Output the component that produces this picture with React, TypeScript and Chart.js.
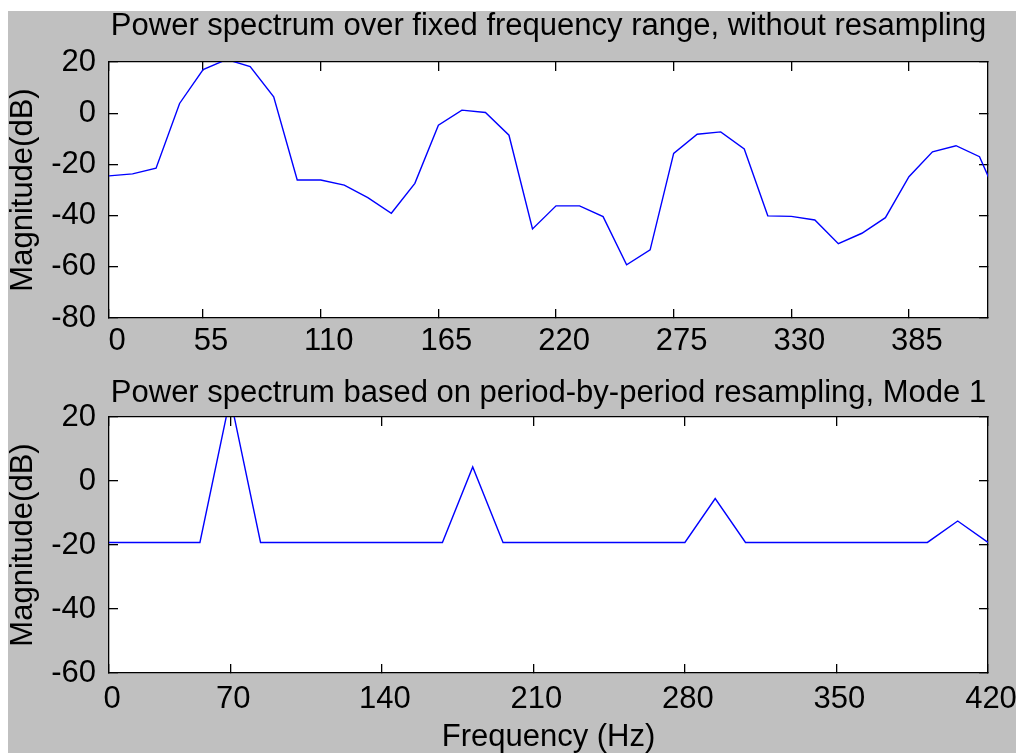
import React, { useEffect, useRef } from "react";
import { Chart, registerables } from "chart.js";

Chart.register(...registerables);

// ---- Data (bin index on x; tick labels give the frequency in Hz) ----
const topBins = [1, 2, 3, 4, 5, 6, 7, 8, 9, 10, 11, 12, 13, 14, 15, 16, 17, 18, 19, 20, 21, 22, 23, 24, 25, 26, 27, 28, 29, 30, 31, 32, 33, 34, 35, 36, 37, 38, 39];
const topMagnitude = [-24.5, -23.7, -21.5, 3.8, 17, 21, 18.2, 6.4, -26.1, -26.1, -28.1, -33, -39.1, -27.4, -4.7, 1.2, 0.3, -8.6, -45.2, -36.2, -36.2, -40.4, -59.2, -53.4, -15.7, -8.2, -7.3, -14, -40.1, -40.3, -41.7, -51, -46.9, -40.8, -24.8, -15.1, -12.7, -17, -38];
const topTickBins = [1, 5, 10, 15, 20, 25, 30, 35];
const topTickLabels = ["0", "55", "110", "165", "220", "275", "330", "385"];
const topXMax = 38.36;

const bottomBins = [1, 2, 3, 4, 5, 6, 7, 8, 9, 10, 11, 12, 13, 14, 15, 16, 17, 18, 19, 20, 21, 22, 23, 24, 25, 26, 27, 28, 29, 30];
const bottomMagnitude = [-19.2, -19.2, -19.2, -19.2, 26, -19.2, -19.2, -19.2, -19.2, -19.2, -19.2, -19.2, 4.4, -19.2, -19.2, -19.2, -19.2, -19.2, -19.2, -19.2, -5.5, -19.2, -19.2, -19.2, -19.2, -19.2, -19.2, -19.2, -12.5, -19.2];
const bottomTickBins = [1, 5, 10, 15, 20, 25, 30];
const bottomTickLabels = ["0", "70", "140", "210", "280", "350", "420"];
const bottomXMax = 30;

const topTitle = "Power spectrum over fixed frequency range, without resampling";
const bottomTitle = "Power spectrum based on period-by-period resampling, Mode 1";
const yLabel = "Magnitude(dB)";
const xLabel = "Frequency (Hz)";

const FONT_FAMILY = '"Liberation Sans", Arial, Helvetica, sans-serif';
const baseFont = { family: FONT_FAMILY, size: 31, lineHeight: 1 };

const plotBackground = {
  id: "plotBackground",
  beforeDraw(chart: any) {
    const { ctx, chartArea: a } = chart;
    ctx.save();
    ctx.fillStyle = "#ffffff";
    ctx.fillRect(a.left, a.top, a.right - a.left, a.bottom - a.top);
    ctx.restore();
  },
};

const gridOpts = {
  drawOnChartArea: false,
  drawTicks: true,
  tickLength: -9,
  color: "#000",
  tickColor: "#000",
  lineWidth: 1.3,
  tickWidth: 1.3,
};
const borderOpts = { display: true, color: "#000", width: 1.3 };

function makeConfig(p: any): any {
  const setTicks = (s: any) => {
    s.ticks = p.tickBins.map((v: number) => ({ value: v }));
  };
  return {
    type: "line",
    data: {
      datasets: [
        {
          data: p.bins.map((b: number, i: number) => ({ x: b, y: p.values[i] })),
          borderColor: "#0000ff",
          borderWidth: 1.4,
          pointRadius: 0,
          tension: 0,
          fill: false,
        },
      ],
    },
    options: {
      responsive: false,
      animation: false,
      devicePixelRatio: 1,
      layout: { padding: { left: 0, right: 28, top: 0, bottom: 0 } },
      plugins: {
        legend: { display: false },
        tooltip: { enabled: false },
        title: {
          display: true,
          text: p.title,
          fullSize: false,
          color: "#000",
          font: { ...baseFont, weight: "normal" },
          padding: { top: p.titleTop, bottom: p.titleBottom },
        },
      },
      scales: {
        x: {
          type: "linear",
          position: "bottom",
          min: 1,
          max: p.xMax,
          afterBuildTicks: setTicks,
          ticks: {
            autoSkip: false,
            maxRotation: 0,
            minRotation: 0,
            padding: 0,
            labelOffset: p.xLabelOffset,
            color: "#000",
            font: { ...baseFont, lineHeight: p.xLabelLineHeight },
            callback: (_v: any, i: number) => p.tickLabels[i],
          },
          grid: gridOpts,
          border: borderOpts,
          title: p.xTitle
            ? { display: true, text: p.xTitle, color: "#000", font: baseFont, padding: { top: 1, bottom: 0 } }
            : { display: false },
          afterFit: (s: any) => {
            s.height = p.xAxisHeight;
          },
        },
        x2: {
          type: "linear",
          position: "top",
          min: 1,
          max: p.xMax,
          afterBuildTicks: setTicks,
          ticks: { display: false, autoSkip: false },
          grid: gridOpts,
          border: borderOpts,
          afterFit: (s: any) => {
            s.height = 0;
          },
        },
        y: {
          type: "linear",
          position: "left",
          min: p.yMin,
          max: p.yMax,
          ticks: { stepSize: 20, padding: 22, color: "#000", font: baseFont },
          grid: gridOpts,
          border: borderOpts,
          title: { display: true, text: yLabel, color: "#000", font: baseFont, padding: 0 },
          afterFit: (s: any) => {
            s.width = 101;
          },
        },
        y2: {
          type: "linear",
          position: "right",
          min: p.yMin,
          max: p.yMax,
          ticks: { display: false, stepSize: 20 },
          grid: gridOpts,
          border: borderOpts,
          afterFit: (s: any) => {
            s.width = 0;
          },
        },
      },
    },
    plugins: [plotBackground],
  };
}

export default function App() {
  const topRef = useRef<HTMLCanvasElement>(null);
  const bottomRef = useRef<HTMLCanvasElement>(null);

  useEffect(() => {
    const c1 = new Chart(
      topRef.current as HTMLCanvasElement,
      makeConfig({
        bins: topBins,
        values: topMagnitude,
        tickBins: topTickBins,
        tickLabels: topTickLabels,
        xMax: topXMax,
        yMin: -80,
        yMax: 20,
        title: topTitle,
        titleTop: 0,
        titleBottom: 20,
        xAxisHeight: 48,
        xLabelLineHeight: 2.09,
        xLabelOffset: 8,
        xTitle: null,
      })
    );
    const c2 = new Chart(
      bottomRef.current as HTMLCanvasElement,
      makeConfig({
        bins: bottomBins,
        values: bottomMagnitude,
        tickBins: bottomTickBins,
        tickLabels: bottomTickLabels,
        xMax: bottomXMax,
        yMin: -60,
        yMax: 20,
        title: bottomTitle,
        titleTop: 12,
        titleBottom: 8,
        xAxisHeight: 80,
        xLabelLineHeight: 2.27,
        xLabelOffset: 3,
        xTitle: xLabel,
      })
    );
    return () => {
      c1.destroy();
      c2.destroy();
    };
  }, []);

  return (
    <div
      style={{
        position: "fixed",
        left: 8,
        top: 11,
        width: 1008,
        height: 742,
        background: "#c0c0c0",
        overflow: "hidden",
      }}
    >
      <canvas
        ref={topRef}
        width={1008}
        height={355}
        style={{ position: "absolute", left: 0, top: 0, display: "block" }}
      />
      <canvas
        ref={bottomRef}
        width={1008}
        height={387}
        style={{ position: "absolute", left: 0, top: 355, display: "block" }}
      />
    </div>
  );
}
